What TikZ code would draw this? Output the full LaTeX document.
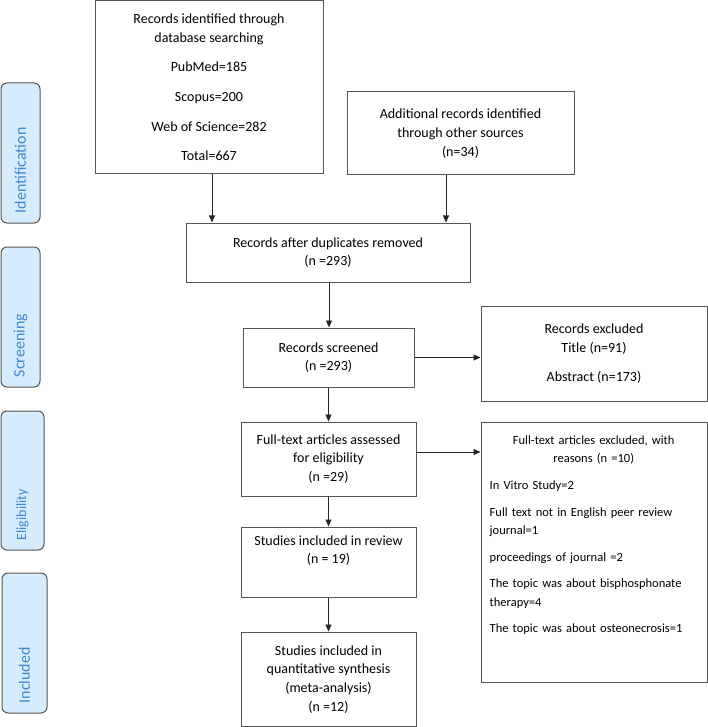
\documentclass[tikz,border=0pt]{standalone}
\usepackage{fontspec}
\setmainfont{Carlito}
\usetikzlibrary{arrows.meta}
\definecolor{sidefill}{RGB}{214,235,252}
\definecolor{sidetext}{RGB}{62,135,210}
\definecolor{linegray}{RGB}{85,85,85}
\begin{document}
\begin{tikzpicture}[x=1pt,y=-1pt,
  box/.style={draw=linegray, line width=1pt, inner sep=0pt, align=center,
    font=\fontsize{14}{18.7}\selectfont},
  side/.style={draw=linegray, fill=sidefill, rounded corners=6pt, line width=1pt, inner sep=0pt},
  sidelabel/.style={rotate=90, anchor=west, inner sep=0pt, text=sidetext,
    font=\fontsize{16}{18}\selectfont},
  arr/.style={draw=black!85, line width=0.9pt, -{Triangle[width=6pt,length=7pt]}}]
\useasboundingbox (0,0) rectangle (708,727);

% side bars
\node[side, minimum width=39pt, minimum height=140pt] (sb1) at (20.5,153) {};
\node[side, minimum width=39pt, minimum height=140pt] (sb2) at (20.5,317) {};
\node[side, minimum width=43pt, minimum height=139pt] (sb3) at (22.5,480.5) {};
\node[side, minimum width=45pt, minimum height=140pt] (sb4) at (24.5,643) {};
\node[sidelabel] (sl1) at ([yshift=10pt]sb1.south) {Identification};
\node[sidelabel] (sl2) at ([yshift=10pt]sb2.south) {Screening};
\node[sidelabel, font=\fontsize{14}{16}\selectfont] (sl3) at ([yshift=10pt]sb3.south) {Eligibility};
\node[sidelabel] (sl4) at ([yshift=10pt]sb4.south) {Included};

% boxes
\node[box, minimum width=228pt, minimum height=173.5pt] (b1) at (209,87.25)
  {Records identified through\\database searching\\[11pt]PubMed=185\\[11pt]Scopus=200\\[11pt]Web of Science=282\\[11pt]Total=667};
\node[box, minimum width=227pt, minimum height=83pt] (b2) at (460.5,133.5)
  {Additional records identified\\through other sources\\(n=34)};
\node[box, minimum width=284pt, minimum height=59pt] (b3) at (328,252.5)
  {Records after duplicates removed\\(n =293)};
\node[box, minimum width=171pt, minimum height=59pt] (b4) at (328.5,357.5)
  {Records screened\\(n =293)};
\node[box, minimum width=226pt, minimum height=95pt] (b5) at (594,353.5)
  {Records excluded\\Title (n=91)\\[10pt]Abstract (n=173)};
\node[box, minimum width=175pt, minimum height=74pt] (b6) at (328.5,459)
  {Full-text articles assessed\\for eligibility\\(n =29)};
\node[box, minimum width=226pt, minimum height=260pt] (b7) at (594,552) {};
\node[anchor=north west, inner sep=0pt, text width=208pt, align=left,
  font=\fontsize{12.5}{18.3}\selectfont] (b7t) at ([xshift=9pt,yshift=-14pt]b7.north west)
  {\centering Full-text articles excluded, with\\reasons (n =10)\par
   \vspace{8.4pt}\raggedright In Vitro Study=2\par\vspace{8.4pt}
   Full text not in English peer review\\journal=1\par\vspace{8.4pt}
   proceedings of journal =2\par\vspace{8.4pt}
   The topic was about bisphosphonate\\therapy=4\par\vspace{8.4pt}
   The topic was about osteonecrosis=1\par};
\node[box, minimum width=175pt, minimum height=70pt] (b8) at (328.5,562)
  {Studies included in review\\(n = 19)\\[6pt]};
\node[box, minimum width=175pt, minimum height=94.5pt] (b9) at (328.5,679.25)
  {Studies included in\\quantitative synthesis\\(meta-analysis)\\(n =12)};

% arrows
\draw[arr] ([xshift=3pt]b1.south) -- ([xshift=3pt]b1.south |- b3.north);
\draw[arr] ([xshift=-14.5pt]b2.south) -- ([xshift=-14.5pt]b2.south |- b3.north);
\draw[arr] ([xshift=1pt]b3.south) -- ([xshift=1pt]b3.south |- b4.north);
\draw[arr] (b4.south) -- (b4.south |- b6.north);
\draw[arr] (b6.south) -- (b6.south |- b8.north);
\draw[arr] (b8.south) -- (b8.south |- b9.north);
\draw[arr] (b4.east) -- (b4.east -| b5.west);
\draw[arr] ([yshift=7pt]b6.east) -- ([yshift=7pt]b6.east -| b7.west);
\end{tikzpicture}
\end{document}
